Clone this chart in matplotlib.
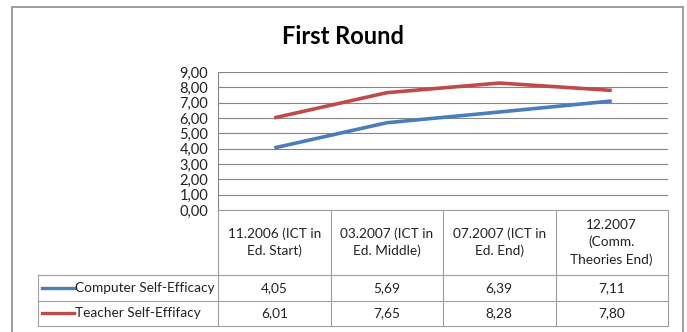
import matplotlib
matplotlib.use("Agg")
import matplotlib.pyplot as plt
from matplotlib.lines import Line2D
from matplotlib.patches import Rectangle

categories = ["11.2006 (ICT in\nEd. Start)", "03.2007 (ICT in\nEd. Middle)",
              "07.2007 (ICT in\nEd. End)", "12.2007\n(Comm.\nTheories End)"]
series_names = ["Computer Self-Efficacy", "Teacher Self-Effifacy"]
computer = [4.05, 5.69, 6.39, 7.11]
teacher = [6.01, 7.65, 8.28, 7.80]
value_labels = [["4,05", "5,69", "6,39", "7,11"], ["6,01", "7,65", "8,28", "7,80"]]
colors = ["#4A7EBB", "#BE4B48"]

W, H = 687, 332
plt.rcParams["font.family"] = ["Lato", "DejaVu Sans"]
fig = plt.figure(figsize=(W / 100, H / 100), dpi=100)


def fx(px):
    return px / W


def fy(py):
    return 1 - py / H


# outer chart frame
fig.patches.append(Rectangle((fx(12), fy(340)), fx(683) - fx(12), fy(7) - fy(340),
                             transform=fig.transFigure, fill=False,
                             edgecolor="#8c8c8c", lw=1.2))

left, right, top, bottom = 218, 668, 72, 210
ax = fig.add_axes([fx(left), fy(bottom), fx(right) - fx(left), fy(top) - fy(bottom)])

x = list(range(len(categories)))
for vals, c in zip([computer, teacher], colors):
    ax.plot(x, vals, color=c, lw=2.6, solid_capstyle="butt")

ax.set_xlim(-0.5, len(categories) - 0.5)
ax.set_ylim(0, 9)
ax.set_yticks(range(10))
ax.set_yticklabels([f"{v},00" for v in range(10)], fontsize=10.5, color="#222222")
ax.set_xticks([])
ax.grid(True, axis="y", color="#868686", lw=0.8)
ax.set_axisbelow(True)
for s in ["top", "right", "bottom"]:
    ax.spines[s].set_visible(False)
ax.spines["left"].set_color("#868686")
ax.tick_params(axis="y", length=0, pad=7)

fig.text(0.5, fy(36), "First Round", ha="center", va="center",
         fontsize=17, fontweight="bold")

# data table below the plot
grid_c = "#a0a0a0"
row_y = [210, 275, 300.5, 326]
bounds = [ax.transData.transform((b - 0.5, 0))[0] for b in range(len(categories) + 1)]
for bx in bounds:
    fig.add_artist(Line2D([fx(bx), fx(bx)], [fy(row_y[0]), fy(row_y[-1])],
                          transform=fig.transFigure, color=grid_c, lw=0.8))
fig.add_artist(Line2D([fx(left), fx(right)], [fy(row_y[0]), fy(row_y[0])],
                      transform=fig.transFigure, color=grid_c, lw=0.8))
for ry in row_y[1:]:
    fig.add_artist(Line2D([fx(38), fx(right)], [fy(ry), fy(ry)],
                          transform=fig.transFigure, color=grid_c, lw=0.8))
fig.add_artist(Line2D([fx(38), fx(38)], [fy(row_y[1]), fy(row_y[-1])],
                      transform=fig.transFigure, color=grid_c, lw=0.8))

for i, cat in enumerate(categories):
    cx = (bounds[i] + bounds[i + 1]) / 2
    fig.text(fx(cx), fy((row_y[0] + row_y[1]) / 2), cat, ha="center", va="center",
             fontsize=9.8, linespacing=1.45, color="#222222")

for r, (name, c) in enumerate(zip(series_names, colors)):
    cy = (row_y[r + 1] + row_y[r + 2]) / 2
    fig.add_artist(Line2D([fx(42), fx(74)], [fy(cy), fy(cy)],
                          transform=fig.transFigure, color=c, lw=2.4))
    fig.text(fx(75), fy(cy), name, ha="left", va="center", fontsize=9.8, color="#222222")
    for i, lab in enumerate(value_labels[r]):
        cx = (bounds[i] + bounds[i + 1]) / 2
        fig.text(fx(cx), fy(cy), lab, ha="center", va="center", fontsize=9.8,
                 color="#222222")

fig.savefig("out.png", dpi=100)
